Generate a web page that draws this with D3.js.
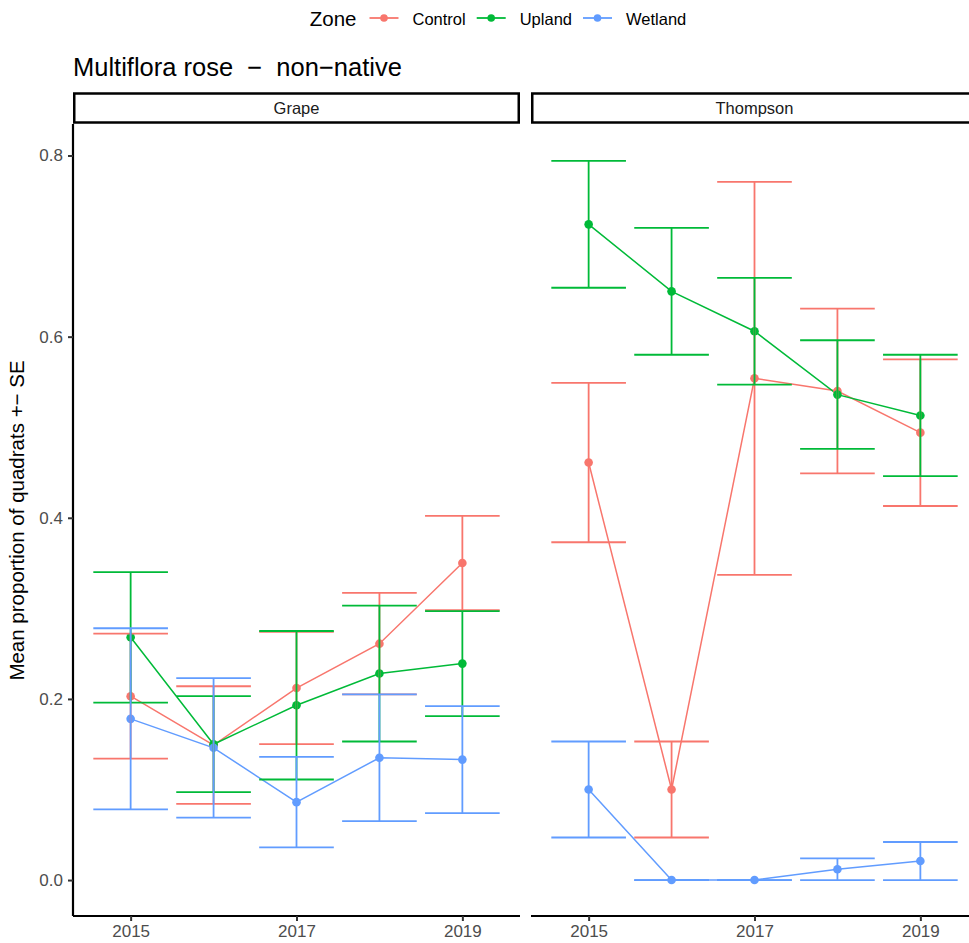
<!DOCTYPE html>
<html>
<head>
<meta charset="utf-8">
<script src="https://cdn.jsdelivr.net/npm/d3@7"></script>
<style>
body { margin: 0; background: #fff; }
svg { display: block; font-family: "Liberation Sans", Arial, sans-serif; }
text { white-space: pre; }
</style>
</head>
<body>
<svg id="chart" width="969" height="943"></svg>
<script>
// data
const years = [2015, 2016, 2017, 2018, 2019];
const sites = ["Grape", "Thompson"];
const zones = ["Control", "Upland", "Wetland"];
const zoneColors = ["#F8766D", "#00BA38", "#619CFF"];
const xTicks = [2015, 2017, 2019];
const yTicks = [0, 0.2, 0.4, 0.6, 0.8];

const grapeControl = [0.203, 0.149, 0.212, 0.261, 0.350];
const grapeControlSE = [0.069, 0.065, 0.062, 0.056, 0.052];
const grapeUpland = [0.268, 0.150, 0.193, 0.228, 0.239];
const grapeUplandSE = [0.072, 0.053, 0.082, 0.075, 0.058];
const grapeWetland = [0.178, 0.146, 0.086, 0.135, 0.133];
const grapeWetlandSE = [0.100, 0.077, 0.050, 0.070, 0.059];

const thompsonControl = [0.461, 0.100, 0.554, 0.540, 0.494];
const thompsonControlSE = [0.088, 0.053, 0.217, 0.091, 0.081];
const thompsonUpland = [0.724, 0.650, 0.606, 0.536, 0.513];
const thompsonUplandSE = [0.070, 0.070, 0.059, 0.060, 0.067];
const thompsonWetland = [0.100, 0, 0, 0.012, 0.021];
const thompsonWetlandSE = [0.053, 0, 0, 0.012, 0.021];

const means = {
  Grape: [grapeControl, grapeUpland, grapeWetland],
  Thompson: [thompsonControl, thompsonUpland, thompsonWetland]
};
const ses = {
  Grape: [grapeControlSE, grapeUplandSE, grapeWetlandSE],
  Thompson: [thompsonControlSE, thompsonUplandSE, thompsonWetlandSE]
};

// long table: one row per site/zone/year
const rows = [];
sites.forEach(site => {
  zones.forEach((zone, zi) => {
    years.forEach((yr, i) => {
      const m = means[site][zi][i], s = ses[site][zi][i];
      rows.push({ site, zone, year: yr, mean: m, lo: m - s, hi: m + s });
    });
  });
});

const svg = d3.select("#chart");
const color = d3.scaleOrdinal().domain(zones).range(zoneColors);

const panelTop = 125, panelBottom = 916, panelW = 447;
const panelX = d3.scaleOrdinal().domain(sites).range([73, 531]);
const barW = 0.9;

// ggplot-ish 5% expansion
const xLo = d3.min(years) - barW / 2, xHi = d3.max(years) + barW / 2;
const xPad = (xHi - xLo) * 0.05;
const yLo = d3.min(rows, d => d.lo), yHi = d3.max(rows, d => d.hi);
const yPad = (yHi - yLo) * 0.05;

const y = d3.scaleLinear().domain([yLo - yPad, yHi + yPad]).range([panelBottom, panelTop]);

const line = x => d3.line().x(d => x(d.year)).y(d => y(d.mean));

sites.forEach(site => {
  const x0 = panelX(site);
  const x = d3.scaleLinear().domain([xLo - xPad, xHi + xPad]).range([x0, x0 + panelW]);
  const data = rows.filter(d => d.site === site);
  const g = svg.append("g");

  // strip
  g.append("rect")
    .attr("x", x0 + 1.25).attr("y", 93.5)
    .attr("width", panelW - 2.5).attr("height", 29)
    .attr("fill", "#fff").attr("stroke", "#000").attr("stroke-width", 2.5);
  g.append("text")
    .attr("x", x0 + panelW / 2).attr("y", 114)
    .attr("text-anchor", "middle")
    .attr("font-size", 16.5).attr("fill", "#1A1A1A")
    .text(site);

  // lines
  g.selectAll("path.zone")
    .data(zones)
    .join("path")
    .attr("class", "zone")
    .attr("fill", "none")
    .attr("stroke", d => color(d))
    .attr("stroke-width", 1.5)
    .attr("d", z => line(x)(data.filter(d => d.zone === z)));

  // points
  g.selectAll("circle")
    .data(data)
    .join("circle")
    .attr("cx", d => x(d.year))
    .attr("cy", d => y(d.mean))
    .attr("r", 4.3)
    .attr("fill", d => color(d.zone));

  // error bars
  const eb = g.selectAll("g.eb")
    .data(data)
    .join("g")
    .attr("class", "eb")
    .attr("stroke", d => color(d.zone))
    .attr("stroke-width", 1.8);
  eb.append("line")
    .attr("x1", d => x(d.year)).attr("x2", d => x(d.year))
    .attr("y1", d => y(d.lo)).attr("y2", d => y(d.hi));
  eb.append("line")
    .attr("x1", d => x(d.year - barW / 2)).attr("x2", d => x(d.year + barW / 2))
    .attr("y1", d => y(d.hi)).attr("y2", d => y(d.hi));
  eb.append("line")
    .attr("x1", d => x(d.year - barW / 2)).attr("x2", d => x(d.year + barW / 2))
    .attr("y1", d => y(d.lo)).attr("y2", d => y(d.lo));

  // x axis
  const xa = g.append("g")
    .attr("transform", `translate(0,${panelBottom})`)
    .call(d3.axisBottom(x).tickValues(xTicks).tickFormat(d3.format("d")).tickSize(5).tickPadding(4));
  xa.select(".domain").attr("stroke", "#000").attr("stroke-width", 2.2)
    .attr("d", `M${x0},0H${x0 + panelW}`);
  xa.selectAll(".tick line").attr("stroke", "#333").attr("stroke-width", 2);
  xa.selectAll(".tick text").attr("font-size", 17).attr("fill", "#4D4D4D")
    .attr("font-family", "Liberation Sans, Arial, sans-serif");

  // y axis only on the first panel
  if (site === sites[0]) {
    const ya = g.append("g")
      .attr("transform", `translate(${x0},0)`)
      .call(d3.axisLeft(y).tickValues(yTicks).tickFormat(d3.format(".1f")).tickSize(5).tickPadding(5));
    ya.select(".domain").attr("stroke", "#000").attr("stroke-width", 2.2)
      .attr("d", `M0,${panelTop - 1}V${panelBottom}`);
    ya.selectAll(".tick line").attr("stroke", "#333").attr("stroke-width", 2);
    ya.selectAll(".tick text").attr("font-size", 17).attr("fill", "#4D4D4D")
      .attr("font-family", "Liberation Sans, Arial, sans-serif");
  }
});

// y axis title
svg.append("text")
  .attr("transform", `translate(24,${(panelTop + panelBottom) / 2}) rotate(-90)`)
  .attr("text-anchor", "middle")
  .attr("font-size", 20.5)
  .text("Mean proportion of quadrats +\u2212 SE");

// plot title
svg.append("text")
  .attr("x", 73).attr("y", 76)
  .attr("font-size", 25.5)
  .text("Multiflora rose  \u2212  non\u2212native");

// legend on top
const leg = svg.append("g").attr("transform", "translate(0,18)");
const title = leg.append("text").attr("y", 8).attr("font-size", 20.5).text("Zone");
let cx = title.node().getComputedTextLength() + 13;
zones.forEach((z, i) => {
  const k = leg.append("g").attr("transform", `translate(${cx},0)`);
  k.append("line").attr("x1", 0).attr("x2", 29)
    .attr("stroke", color(z)).attr("stroke-width", 1.8);
  k.append("circle").attr("cx", 14.5).attr("r", 3.8).attr("fill", color(z));
  const t = leg.append("text").attr("x", cx + 43).attr("y", 6.5)
    .attr("font-size", 16.5).attr("fill", "#000").text(z);
  cx += 43 + t.node().getComputedTextLength() + (i < zones.length - 1 ? 11 : 0);
});
leg.attr("transform", `translate(${498 - cx / 2},18)`);
</script>
</body>
</html>
